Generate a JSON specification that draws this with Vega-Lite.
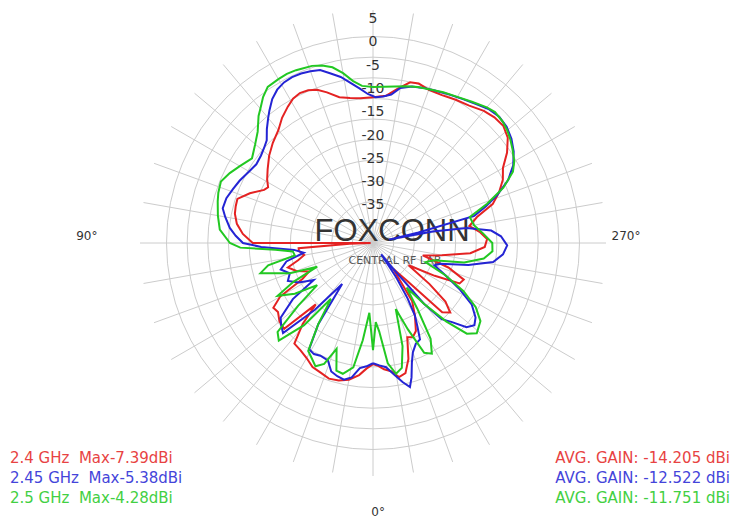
{
"$schema":"https://vega.github.io/schema/vega-lite/v6.json",
"width":466,"height":466,
"autosize":{"type":"none"},
"padding":{"left":140,"top":10,"right":130,"bottom":47},
"background":"white",
"view":{"stroke":null},
"config":{"font":"DejaVu Sans"},
"datasets":{
"rings":[{"ring":-40,"lab":"-40"},{"ring":-35,"lab":"-35"},{"ring":-30,"lab":"-30"},{"ring":-25,"lab":"-25"},{"ring":-20,"lab":"-20"},{"ring":-15,"lab":"-15"},{"ring":-10,"lab":"-10"},{"ring":-5,"lab":"-5"},{"ring":0,"lab":"0"},{"ring":5,"lab":"5"}],
"spokes":[{"deg":0},{"deg":10},{"deg":20},{"deg":30},{"deg":40},{"deg":50},{"deg":60},{"deg":70},{"deg":80},{"deg":90},{"deg":100},{"deg":110},{"deg":120},{"deg":130},{"deg":140},{"deg":150},{"deg":160},{"deg":170},{"deg":180},{"deg":190},{"deg":200},{"deg":210},{"deg":220},{"deg":230},{"deg":240},{"deg":250},{"deg":260},{"deg":270},{"deg":280},{"deg":290},{"deg":300},{"deg":310},{"deg":320},{"deg":330},{"deg":340},{"deg":350}],
"notes":[{"f":"2.4 GHz","left":"2.4 GHz\u00a0 Max-7.39dBi","right":"AVG. GAIN: -14.205 dBi"},{"f":"2.45 GHz","left":"2.45 GHz\u00a0 Max-5.38dBi","right":"AVG. GAIN: -12.522 dBi"},{"f":"2.5 GHz","left":"2.5 GHz\u00a0 Max-4.28dBi","right":"AVG. GAIN: -11.751 dBi"}],
"curves":[
{"f":"2.4 GHz","a":0,"g":-19.0},{"f":"2.4 GHz","a":3,"g":-18.0},{"f":"2.4 GHz","a":6,"g":-16.5},{"f":"2.4 GHz","a":10,"g":-15.2},{"f":"2.4 GHz","a":14,"g":-14.6},{"f":"2.4 GHz","a":18,"g":-14.4},{"f":"2.4 GHz","a":22,"g":-15.0},{"f":"2.4 GHz","a":26,"g":-15.4},{"f":"2.4 GHz","a":30,"g":-16.5},{"f":"2.4 GHz","a":34,"g":-17.2},{"f":"2.4 GHz","a":38,"g":-17.6},{"f":"2.4 GHz","a":41,"g":-22},{"f":"2.4 GHz","a":43,"g":-27},{"f":"2.4 GHz","a":46,"g":-18.5},{"f":"2.4 GHz","a":50,"g":-18.8},{"f":"2.4 GHz","a":54,"g":-19.8},{"f":"2.4 GHz","a":57,"g":-19.5},{"f":"2.4 GHz","a":60,"g":-22},{"f":"2.4 GHz","a":63,"g":-28},{"f":"2.4 GHz","a":66,"g":-30},{"f":"2.4 GHz","a":70,"g":-27.5},{"f":"2.4 GHz","a":74,"g":-26},{"f":"2.4 GHz","a":77,"g":-28.5},{"f":"2.4 GHz","a":80,"g":-30},{"f":"2.4 GHz","a":84,"g":-29},{"f":"2.4 GHz","a":86,"g":-29},{"f":"2.4 GHz","a":88,"g":-40},{"f":"2.4 GHz","a":89,"g":-44.5},{"f":"2.4 GHz","a":90,"g":-19.2},{"f":"2.4 GHz","a":94,"g":-17.0},{"f":"2.4 GHz","a":98,"g":-15.5},{"f":"2.4 GHz","a":102,"g":-14.7},{"f":"2.4 GHz","a":105,"g":-14.5},{"f":"2.4 GHz","a":108,"g":-14.4},{"f":"2.4 GHz","a":112,"g":-16.5},{"f":"2.4 GHz","a":116,"g":-19.0},{"f":"2.4 GHz","a":118,"g":-19.5},{"f":"2.4 GHz","a":121,"g":-18.5},{"f":"2.4 GHz","a":125,"g":-17.4},{"f":"2.4 GHz","a":130,"g":-15.9},{"f":"2.4 GHz","a":135,"g":-14.6},{"f":"2.4 GHz","a":140,"g":-13.4},{"f":"2.4 GHz","a":144,"g":-11.8},{"f":"2.4 GHz","a":148,"g":-10.5},{"f":"2.4 GHz","a":151,"g":-9.6},{"f":"2.4 GHz","a":154,"g":-9.2},{"f":"2.4 GHz","a":157,"g":-9.4},{"f":"2.4 GHz","a":160,"g":-10.0},{"f":"2.4 GHz","a":163,"g":-11.2},{"f":"2.4 GHz","a":167,"g":-12.9},{"f":"2.4 GHz","a":171,"g":-13.5},{"f":"2.4 GHz","a":175,"g":-13.8},{"f":"2.4 GHz","a":180,"g":-13.7},{"f":"2.4 GHz","a":185,"g":-13.3},{"f":"2.4 GHz","a":189,"g":-11.5},{"f":"2.4 GHz","a":193,"g":-9.6},{"f":"2.4 GHz","a":196,"g":-9.4},{"f":"2.4 GHz","a":200,"g":-10.0},{"f":"2.4 GHz","a":205,"g":-10.0},{"f":"2.4 GHz","a":210,"g":-9.5},{"f":"2.4 GHz","a":215,"g":-9.0},{"f":"2.4 GHz","a":220,"g":-8.0},{"f":"2.4 GHz","a":224,"g":-7.5},{"f":"2.4 GHz","a":228,"g":-7.39},{"f":"2.4 GHz","a":232,"g":-8.3},{"f":"2.4 GHz","a":236,"g":-10.3},{"f":"2.4 GHz","a":240,"g":-12.8},{"f":"2.4 GHz","a":244,"g":-14.0},{"f":"2.4 GHz","a":248,"g":-15.8},{"f":"2.4 GHz","a":252,"g":-18.0},{"f":"2.4 GHz","a":256,"g":-22},{"f":"2.4 GHz","a":260,"g":-24},{"f":"2.4 GHz","a":264,"g":-22},{"f":"2.4 GHz","a":268,"g":-20.5},{"f":"2.4 GHz","a":272,"g":-21},{"f":"2.4 GHz","a":276,"g":-24},{"f":"2.4 GHz","a":280,"g":-30},{"f":"2.4 GHz","a":284,"g":-34},{"f":"2.4 GHz","a":288,"g":-28},{"f":"2.4 GHz","a":292,"g":-24},{"f":"2.4 GHz","a":295,"g":-24.5},{"f":"2.4 GHz","a":298,"g":-30},{"f":"2.4 GHz","a":302,"g":-36},{"f":"2.4 GHz","a":306,"g":-30},{"f":"2.4 GHz","a":309,"g":-25},{"f":"2.4 GHz","a":312,"g":-22.7},{"f":"2.4 GHz","a":315,"g":-24},{"f":"2.4 GHz","a":318,"g":-34},{"f":"2.4 GHz","a":322,"g":-38},{"f":"2.4 GHz","a":326,"g":-30},{"f":"2.4 GHz","a":330,"g":-27},{"f":"2.4 GHz","a":334,"g":-24},{"f":"2.4 GHz","a":337,"g":-23.1},{"f":"2.4 GHz","a":340,"g":-23.5},{"f":"2.4 GHz","a":343,"g":-19},{"f":"2.4 GHz","a":346,"g":-16.2},{"f":"2.4 GHz","a":349,"g":-15.7},{"f":"2.4 GHz","a":352,"g":-17.2},{"f":"2.4 GHz","a":355,"g":-17.8},{"f":"2.4 GHz","a":358,"g":-18.7},{"f":"2.4 GHz","a":360,"g":-19.0},
{"f":"2.45 GHz","a":0,"g":-19.2},{"f":"2.45 GHz","a":3,"g":-18.5},{"f":"2.45 GHz","a":6,"g":-18.0},{"f":"2.45 GHz","a":9,"g":-15.8},{"f":"2.45 GHz","a":12,"g":-15.0},{"f":"2.45 GHz","a":15,"g":-15.4},{"f":"2.45 GHz","a":18,"g":-16.0},{"f":"2.45 GHz","a":21,"g":-18.0},{"f":"2.45 GHz","a":25,"g":-18.3},{"f":"2.45 GHz","a":28,"g":-18.0},{"f":"2.45 GHz","a":31,"g":-18.4},{"f":"2.45 GHz","a":34,"g":-24},{"f":"2.45 GHz","a":37,"g":-34},{"f":"2.45 GHz","a":41,"g":-26},{"f":"2.45 GHz","a":45,"g":-17.7},{"f":"2.45 GHz","a":48,"g":-18.5},{"f":"2.45 GHz","a":51,"g":-19.5},{"f":"2.45 GHz","a":55,"g":-24},{"f":"2.45 GHz","a":58,"g":-30},{"f":"2.45 GHz","a":62,"g":-27},{"f":"2.45 GHz","a":66,"g":-25},{"f":"2.45 GHz","a":70,"g":-26},{"f":"2.45 GHz","a":74,"g":-24.4},{"f":"2.45 GHz","a":78,"g":-26},{"f":"2.45 GHz","a":82,"g":-30},{"f":"2.45 GHz","a":85,"g":-28},{"f":"2.45 GHz","a":88,"g":-21},{"f":"2.45 GHz","a":90,"g":-17.1},{"f":"2.45 GHz","a":93,"g":-15.5},{"f":"2.45 GHz","a":96,"g":-14.1},{"f":"2.45 GHz","a":100,"g":-12.8},{"f":"2.45 GHz","a":103,"g":-11.9},{"f":"2.45 GHz","a":107,"g":-12.1},{"f":"2.45 GHz","a":111,"g":-12.8},{"f":"2.45 GHz","a":115,"g":-13.4},{"f":"2.45 GHz","a":120,"g":-14.3},{"f":"2.45 GHz","a":124,"g":-14.8},{"f":"2.45 GHz","a":128,"g":-14.5},{"f":"2.45 GHz","a":131,"g":-14.0},{"f":"2.45 GHz","a":134,"g":-13.3},{"f":"2.45 GHz","a":137,"g":-11.6},{"f":"2.45 GHz","a":140,"g":-10.0},{"f":"2.45 GHz","a":142,"g":-8.9},{"f":"2.45 GHz","a":145,"g":-7.3},{"f":"2.45 GHz","a":148,"g":-6.2},{"f":"2.45 GHz","a":151,"g":-5.6},{"f":"2.45 GHz","a":154,"g":-5.38},{"f":"2.45 GHz","a":157,"g":-5.5},{"f":"2.45 GHz","a":160,"g":-5.8},{"f":"2.45 GHz","a":163,"g":-6.2},{"f":"2.45 GHz","a":166,"g":-7.5},{"f":"2.45 GHz","a":169,"g":-8.7},{"f":"2.45 GHz","a":172,"g":-10.3},{"f":"2.45 GHz","a":175,"g":-11.7},{"f":"2.45 GHz","a":178,"g":-13.0},{"f":"2.45 GHz","a":181,"g":-13.7},{"f":"2.45 GHz","a":184,"g":-13.5},{"f":"2.45 GHz","a":187,"g":-12.9},{"f":"2.45 GHz","a":190,"g":-11.2},{"f":"2.45 GHz","a":194,"g":-10.4},{"f":"2.45 GHz","a":198,"g":-10.0},{"f":"2.45 GHz","a":202,"g":-9.7},{"f":"2.45 GHz","a":207,"g":-9.2},{"f":"2.45 GHz","a":212,"g":-8.6},{"f":"2.45 GHz","a":217,"g":-7.8},{"f":"2.45 GHz","a":221,"g":-7.0},{"f":"2.45 GHz","a":225,"g":-6.7},{"f":"2.45 GHz","a":229,"g":-7.0},{"f":"2.45 GHz","a":233,"g":-7.8},{"f":"2.45 GHz","a":237,"g":-9.0},{"f":"2.45 GHz","a":241,"g":-10.6},{"f":"2.45 GHz","a":245,"g":-13.0},{"f":"2.45 GHz","a":249,"g":-16.5},{"f":"2.45 GHz","a":252,"g":-19.5},{"f":"2.45 GHz","a":255,"g":-22.5},{"f":"2.45 GHz","a":257,"g":-35},{"f":"2.45 GHz","a":258,"g":-41.5},{"f":"2.45 GHz","a":259,"g":-32},{"f":"2.45 GHz","a":261,"g":-24.6},{"f":"2.45 GHz","a":264,"g":-19.5},{"f":"2.45 GHz","a":267,"g":-17.5},{"f":"2.45 GHz","a":271,"g":-16.2},{"f":"2.45 GHz","a":275,"g":-17.0},{"f":"2.45 GHz","a":279,"g":-18.9},{"f":"2.45 GHz","a":283,"g":-24},{"f":"2.45 GHz","a":287,"g":-29.8},{"f":"2.45 GHz","a":290,"g":-31},{"f":"2.45 GHz","a":294,"g":-28},{"f":"2.45 GHz","a":298,"g":-24},{"f":"2.45 GHz","a":302,"g":-20},{"f":"2.45 GHz","a":306,"g":-17.8},{"f":"2.45 GHz","a":309,"g":-17.0},{"f":"2.45 GHz","a":312,"g":-18},{"f":"2.45 GHz","a":315,"g":-21},{"f":"2.45 GHz","a":318,"g":-23},{"f":"2.45 GHz","a":320,"g":-28},{"f":"2.45 GHz","a":322,"g":-38},{"f":"2.45 GHz","a":324,"g":-42},{"f":"2.45 GHz","a":326,"g":-36},{"f":"2.45 GHz","a":328,"g":-31},{"f":"2.45 GHz","a":330,"g":-27},{"f":"2.45 GHz","a":332,"g":-24.7},{"f":"2.45 GHz","a":334,"g":-22},{"f":"2.45 GHz","a":337,"g":-21.5},{"f":"2.45 GHz","a":340,"g":-20},{"f":"2.45 GHz","a":342,"g":-18},{"f":"2.45 GHz","a":344,"g":-15.0},{"f":"2.45 GHz","a":345.6,"g":-13.1},{"f":"2.45 GHz","a":348,"g":-14.5},{"f":"2.45 GHz","a":351,"g":-16.5},{"f":"2.45 GHz","a":354,"g":-18.2},{"f":"2.45 GHz","a":357,"g":-18.7},{"f":"2.45 GHz","a":360,"g":-19.2},
{"f":"2.5 GHz","a":0,"g":-22},{"f":"2.5 GHz","a":3,"g":-30},{"f":"2.5 GHz","a":6,"g":-24},{"f":"2.5 GHz","a":9,"g":-18},{"f":"2.5 GHz","a":13,"g":-16.2},{"f":"2.5 GHz","a":16,"g":-16.5},{"f":"2.5 GHz","a":19,"g":-21},{"f":"2.5 GHz","a":22,"g":-17},{"f":"2.5 GHz","a":25,"g":-15.8},{"f":"2.5 GHz","a":28,"g":-17},{"f":"2.5 GHz","a":31,"g":-18},{"f":"2.5 GHz","a":34,"g":-24},{"f":"2.5 GHz","a":37,"g":-30},{"f":"2.5 GHz","a":40,"g":-22},{"f":"2.5 GHz","a":44,"g":-15.9},{"f":"2.5 GHz","a":47,"g":-17},{"f":"2.5 GHz","a":50,"g":-24},{"f":"2.5 GHz","a":53,"g":-30},{"f":"2.5 GHz","a":57,"g":-25},{"f":"2.5 GHz","a":61,"g":-21.6},{"f":"2.5 GHz","a":64,"g":-26},{"f":"2.5 GHz","a":67,"g":-32},{"f":"2.5 GHz","a":70,"g":-26},{"f":"2.5 GHz","a":75,"g":-20},{"f":"2.5 GHz","a":78,"g":-22},{"f":"2.5 GHz","a":81,"g":-28},{"f":"2.5 GHz","a":84,"g":-27.7},{"f":"2.5 GHz","a":86,"g":-24},{"f":"2.5 GHz","a":88,"g":-16.5},{"f":"2.5 GHz","a":90,"g":-14.3},{"f":"2.5 GHz","a":95,"g":-12.0},{"f":"2.5 GHz","a":100,"g":-11.2},{"f":"2.5 GHz","a":105,"g":-10.5},{"f":"2.5 GHz","a":108,"g":-10.1},{"f":"2.5 GHz","a":112,"g":-9.8},{"f":"2.5 GHz","a":116,"g":-10.8},{"f":"2.5 GHz","a":120,"g":-12.0},{"f":"2.5 GHz","a":125,"g":-13.3},{"f":"2.5 GHz","a":130,"g":-12.0},{"f":"2.5 GHz","a":134,"g":-10.6},{"f":"2.5 GHz","a":138,"g":-8.3},{"f":"2.5 GHz","a":140,"g":-7.4},{"f":"2.5 GHz","a":143,"g":-5.8},{"f":"2.5 GHz","a":146,"g":-4.6},{"f":"2.5 GHz","a":150,"g":-4.4},{"f":"2.5 GHz","a":153,"g":-4.28},{"f":"2.5 GHz","a":156,"g":-4.4},{"f":"2.5 GHz","a":158,"g":-4.6},{"f":"2.5 GHz","a":161,"g":-4.8},{"f":"2.5 GHz","a":164,"g":-5.4},{"f":"2.5 GHz","a":167,"g":-6.3},{"f":"2.5 GHz","a":170,"g":-8.0},{"f":"2.5 GHz","a":173,"g":-10.0},{"f":"2.5 GHz","a":176,"g":-11.2},{"f":"2.5 GHz","a":180,"g":-11.5},{"f":"2.5 GHz","a":184,"g":-11.4},{"f":"2.5 GHz","a":188,"g":-11.1},{"f":"2.5 GHz","a":192,"g":-10.6},{"f":"2.5 GHz","a":196,"g":-10.2},{"f":"2.5 GHz","a":200,"g":-9.9},{"f":"2.5 GHz","a":205,"g":-9.3},{"f":"2.5 GHz","a":210,"g":-8.8},{"f":"2.5 GHz","a":215,"g":-8.0},{"f":"2.5 GHz","a":220,"g":-7.0},{"f":"2.5 GHz","a":223,"g":-6.6},{"f":"2.5 GHz","a":227,"g":-6.9},{"f":"2.5 GHz","a":230,"g":-7.4},{"f":"2.5 GHz","a":233,"g":-8.1},{"f":"2.5 GHz","a":236,"g":-8.9},{"f":"2.5 GHz","a":240,"g":-10.0},{"f":"2.5 GHz","a":243,"g":-11.3},{"f":"2.5 GHz","a":247,"g":-14.6},{"f":"2.5 GHz","a":251,"g":-19.1},{"f":"2.5 GHz","a":255,"g":-23.5},{"f":"2.5 GHz","a":260,"g":-23},{"f":"2.5 GHz","a":265,"g":-21.3},{"f":"2.5 GHz","a":270,"g":-19.4},{"f":"2.5 GHz","a":274,"g":-19.3},{"f":"2.5 GHz","a":278,"g":-21},{"f":"2.5 GHz","a":282,"g":-25},{"f":"2.5 GHz","a":286,"g":-31.5},{"f":"2.5 GHz","a":290,"g":-33},{"f":"2.5 GHz","a":294,"g":-28},{"f":"2.5 GHz","a":298,"g":-23},{"f":"2.5 GHz","a":302,"g":-19},{"f":"2.5 GHz","a":306,"g":-16.5},{"f":"2.5 GHz","a":311,"g":-15.5},{"f":"2.5 GHz","a":314,"g":-17},{"f":"2.5 GHz","a":317,"g":-22},{"f":"2.5 GHz","a":320,"g":-28},{"f":"2.5 GHz","a":323,"g":-33},{"f":"2.5 GHz","a":326,"g":-28},{"f":"2.5 GHz","a":329,"g":-21},{"f":"2.5 GHz","a":332,"g":-18.1},{"f":"2.5 GHz","a":335,"g":-19},{"f":"2.5 GHz","a":338,"g":-25},{"f":"2.5 GHz","a":341,"g":-30},{"f":"2.5 GHz","a":344,"g":-22},{"f":"2.5 GHz","a":347,"g":-17.5},{"f":"2.5 GHz","a":350,"g":-16.5},{"f":"2.5 GHz","a":353,"g":-19},{"f":"2.5 GHz","a":356,"g":-26},{"f":"2.5 GHz","a":358,"g":-28},{"f":"2.5 GHz","a":360,"g":-22}
]
},
"encoding":{
 "x":{"type":"quantitative","scale":{"domain":[-50,50],"nice":false,"zero":false},"axis":null},
 "y":{"type":"quantitative","scale":{"domain":[-50,50],"nice":false,"zero":false},"axis":null}
},
"layer":[
{"data":{"name":"rings"},
 "transform":[{"calculate":"datum.ring+45","as":"rr"},{"calculate":"0","as":"o"}],
 "mark":{"type":"point","shape":"circle","filled":false,"stroke":"#cccccc","strokeWidth":1,"opacity":1},
 "encoding":{
  "x":{"field":"o","type":"quantitative"},
  "y":{"field":"o","type":"quantitative"},
  "size":{"field":"rr","type":"quantitative","scale":{"type":"pow","exponent":2,"domain":[0,50],"range":[0,170554],"zero":false,"nice":false},"legend":null}}},
{"data":{"name":"spokes"},
 "transform":[{"calculate":"-50*sin(datum.deg*PI/180)","as":"sx"},{"calculate":"-50*cos(datum.deg*PI/180)","as":"sy"},{"calculate":"0","as":"o"}],
 "mark":{"type":"rule","stroke":"#cccccc","strokeWidth":1},
 "encoding":{"x":{"field":"o","type":"quantitative"},"y":{"field":"o","type":"quantitative"},"x2":{"field":"sx"},"y2":{"field":"sy"}}},
{"data":{"name":"rings"},
 "transform":[{"filter":"datum.ring > -40"},{"calculate":"datum.ring+45","as":"ly"},{"calculate":"0","as":"o"}],
 "mark":{"type":"text","baseline":"top","dy":2,"fontSize":14,"color":"#333333"},
 "encoding":{"x":{"field":"o","type":"quantitative"},"y":{"field":"ly","type":"quantitative"},"text":{"field":"lab","type":"nominal"}}},
{"data":{"values":[{"t":"FOXCONN"}]},
 "transform":[{"calculate":"4.1","as":"tx"},{"calculate":"2.4","as":"ty"}],
 "mark":{"type":"text","font":"Liberation Sans","fontSize":31,"color":"#333333","baseline":"middle"},
 "encoding":{"x":{"field":"tx","type":"quantitative"},"y":{"field":"ty","type":"quantitative"},"text":{"field":"t","type":"nominal"}}},
{"data":{"values":[{"t":"CENTRAL RF LAB"}]},
 "transform":[{"calculate":"4.7","as":"tx"},{"calculate":"-3.9","as":"ty"}],
 "mark":{"type":"text","fontSize":11,"color":"#555555","baseline":"middle"},
 "encoding":{"x":{"field":"tx","type":"quantitative"},"y":{"field":"ty","type":"quantitative"},"text":{"field":"t","type":"nominal"}}},
{"data":{"name":"curves"},
 "transform":[{"calculate":"datum.g+45","as":"r"},{"calculate":"-datum.r*sin(datum.a*PI/180)","as":"px"},{"calculate":"-datum.r*cos(datum.a*PI/180)","as":"py"}],
 "mark":{"type":"line","strokeWidth":2},
 "encoding":{"x":{"field":"px","type":"quantitative"},"y":{"field":"py","type":"quantitative"},
  "color":{"field":"f","type":"nominal","scale":{"domain":["2.4 GHz","2.45 GHz","2.5 GHz"],"range":["#e42222","#2424d4","#22c822"]},"legend":null},
  "order":{"field":"a","type":"quantitative"}}},
{"data":{"values":[{"t":"90°","ang":90},{"t":"270°","ang":270},{"t":"0°","ang":0}]},
 "transform":[{"calculate":"datum.ang==90 ? -61.4 : (datum.ang==270 ? 54.3 : 1.1)","as":"tx"},{"calculate":"datum.ang==0 ? -57.7 : 1.4","as":"ty"}],
 "mark":{"type":"text","fontSize":12,"color":"#333333","baseline":"middle"},
 "encoding":{"x":{"field":"tx","type":"quantitative"},"y":{"field":"ty","type":"quantitative"},"text":{"field":"t","type":"nominal"}}},
{"data":{"name":"notes"},
 "transform":[{"calculate":"-77.9","as":"tx"},{"calculate":"-46.1-4.3*indexof(['2.4 GHz','2.45 GHz','2.5 GHz'],datum.f)","as":"ty"}],
 "mark":{"type":"text","fontSize":15,"align":"left","baseline":"middle","opacity":0.85},
 "encoding":{"x":{"field":"tx","type":"quantitative"},"y":{"field":"ty","type":"quantitative"},"text":{"field":"left","type":"nominal"},"color":{"field":"f","type":"nominal","legend":null}}},
{"data":{"name":"notes"},
 "transform":[{"calculate":"76.6","as":"tx"},{"calculate":"-46.1-4.3*indexof(['2.4 GHz','2.45 GHz','2.5 GHz'],datum.f)","as":"ty"}],
 "mark":{"type":"text","fontSize":15,"align":"right","baseline":"middle","opacity":0.85},
 "encoding":{"x":{"field":"tx","type":"quantitative"},"y":{"field":"ty","type":"quantitative"},"text":{"field":"right","type":"nominal"},"color":{"field":"f","type":"nominal","legend":null}}}
]
}
